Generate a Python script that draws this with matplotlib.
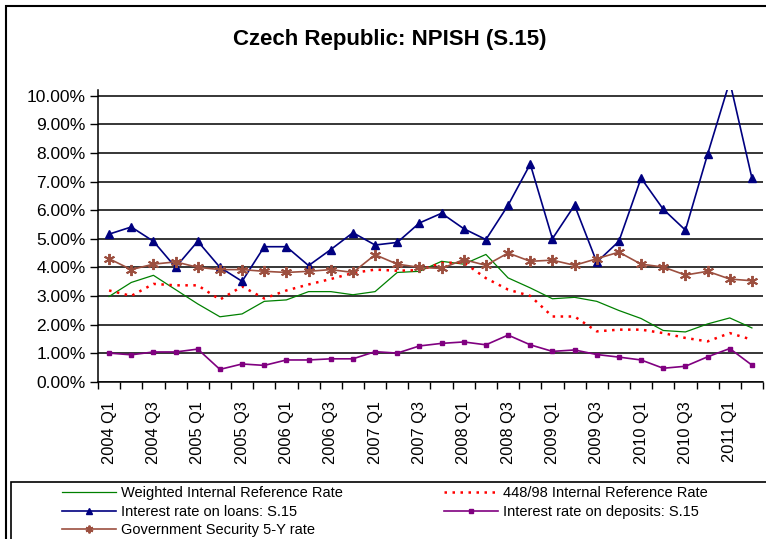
import numpy as np
import matplotlib
matplotlib.use("Agg")
import matplotlib.pyplot as plt
from matplotlib.patches import Rectangle
from matplotlib.ticker import FuncFormatter

plt.rcParams['font.family'] = ['Liberation Sans', 'DejaVu Sans']

# quarterly categories 2004 Q1 .. 2011 Q2
quarters = [f"{y} Q{q}" for y in range(2004, 2012) for q in range(1, 5)][:30]

# rates in percent
weighted_ref = [2.98, 3.47, 3.72, 3.22, 2.72, 2.27, 2.37, 2.81, 2.86, 3.15,
                3.15, 3.04, 3.15, 3.82, 3.86, 4.21, 4.11, 4.45, 3.63, 3.28,
                2.90, 2.95, 2.81, 2.49, 2.21, 1.79, 1.74, 2.02, 2.23, 1.88]
ref_448_98 = [3.19, 3.00, 3.42, 3.37, 3.37, 2.87, 3.33, 2.91, 3.19, 3.40,
              3.59, 3.80, 3.92, 3.88, 3.90, 4.15, 4.17, 3.62, 3.22, 3.00,
              2.28, 2.28, 1.76, 1.82, 1.82, 1.70, 1.53, 1.41, 1.70, 1.47]
loans = [5.16, 5.41, 4.91, 4.00, 4.91, 4.00, 3.51, 4.72, 4.72, 4.06,
         4.62, 5.21, 4.78, 4.87, 5.55, 5.89, 5.35, 4.97, 6.17, 7.61,
         5.00, 6.17, 4.18, 4.91, 7.12, 6.03, 5.30, 7.95, 10.50, 7.12]
deposits = [1.00, 0.94, 1.04, 1.04, 1.14, 0.43, 0.62, 0.57, 0.76, 0.76,
            0.80, 0.80, 1.05, 1.00, 1.25, 1.34, 1.39, 1.29, 1.63, 1.29,
            1.06, 1.11, 0.95, 0.86, 0.76, 0.47, 0.54, 0.87, 1.16, 0.58]
gov_5y = [4.30, 3.92, 4.11, 4.19, 4.00, 3.92, 3.92, 3.86, 3.82, 3.86,
          3.92, 3.82, 4.44, 4.11, 4.00, 3.96, 4.27, 4.07, 4.50, 4.21,
          4.25, 4.07, 4.30, 4.53, 4.11, 4.01, 3.73, 3.86, 3.59, 3.53]

W, H = 766, 539
fig = plt.figure(figsize=(W / 100, H / 100), dpi=100)

# outer chart frame and legend box (Excel style)
fig.patches.append(Rectangle((6 / W, -0.1), 1.2, 1 - 6 / H + 0.1, transform=fig.transFigure,
                             fill=False, edgecolor='black', linewidth=1.5))
fig.patches.append(Rectangle((11 / W, -0.1), 1.2, (H - 482) / H + 0.1, transform=fig.transFigure,
                             fill=False, edgecolor='black', linewidth=1.2))

ax = fig.add_axes([98 / W, (H - 381.7) / H, 665 / W, (381.7 - 90) / H])
x = np.arange(len(quarters))

l_w, = ax.plot(x, weighted_ref, color='#008000', linewidth=0.9)
l_r, = ax.plot(x, ref_448_98, color='#FF0000', linewidth=1.8, linestyle=(0, (1, 2.2)))
l_l, = ax.plot(x, loans, color='#000080', linewidth=1.2, marker='^', markersize=6)
l_d, = ax.plot(x, deposits, color='#800080', linewidth=1.2, marker='s', markersize=3.5)
l_g, = ax.plot(x, gov_5y, color='#9C4F3F', linewidth=1.2, marker=(6, 2, 0),
               markersize=8, markeredgewidth=1.4)

ax.set_xlim(-0.5, len(quarters) - 0.5)
ax.set_ylim(0, 10.2)
ax.set_yticks(np.arange(0, 11, 1))
ax.yaxis.set_major_formatter(FuncFormatter(lambda v, p: f"{v:.2f}%"))
ax.grid(axis='y', color='black', linewidth=1.1)
ax.set_axisbelow(True)

ax.set_xticks(x[::2])
ax.set_xticklabels(quarters[::2], rotation=90, fontsize=11.8)
ax.set_xticks(np.arange(-0.5, len(quarters), 1), minor=True)
ax.tick_params(axis='x', which='major', length=0, pad=14)
ax.tick_params(axis='x', which='minor', length=5, width=1, direction='out')
ax.tick_params(axis='y', length=6, width=1, labelsize=12.5, pad=3)

for s in ['top', 'right']:
    ax.spines[s].set_visible(False)
for s in ['left', 'bottom']:
    ax.spines[s].set_color('black')
    ax.spines[s].set_linewidth(1.1)

fig.text(390 / W, 1 - 40 / H, 'Czech Republic: NPISH (S.15)', fontsize=16,
         fontweight='bold', ha='center', va='center')

handles = [l_w, l_l, l_g, l_r, l_d]
labels = ['Weighted Internal Reference Rate', 'Interest rate on loans: S.15',
          'Government Security 5-Y rate', '448/98 Internal Reference Rate',
          'Interest rate on deposits: S.15']
fig.legend(handles, labels, loc='upper left', bbox_to_anchor=(62 / W, 1 - 486 / H),
           ncol=2, frameon=False, fontsize=10.5, borderpad=0, borderaxespad=0,
           handlelength=3.7, handletextpad=0.35, columnspacing=6.9,
           labelspacing=0.32, markerscale=0.7)

fig.savefig('out.png', dpi=100)
